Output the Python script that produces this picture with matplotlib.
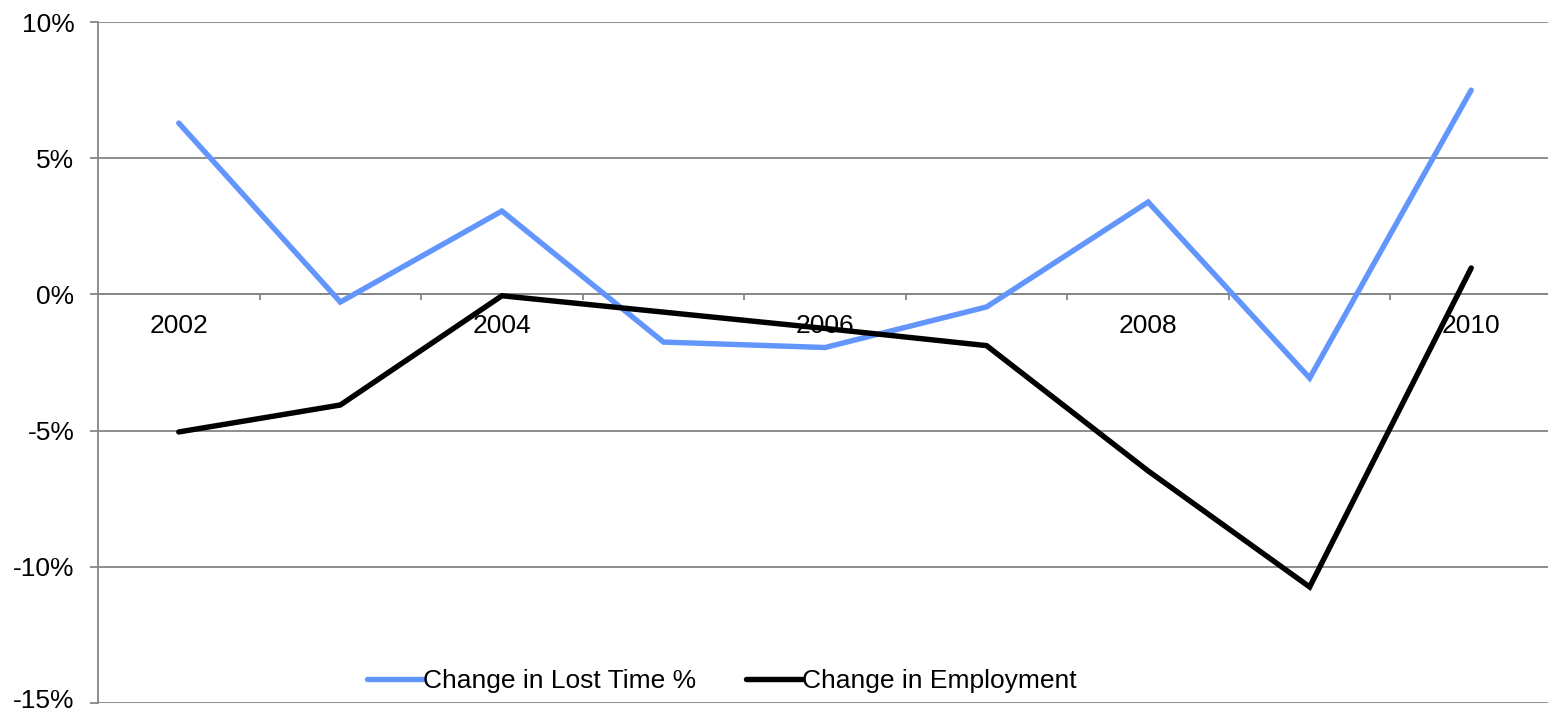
import numpy as np
import matplotlib
matplotlib.use("Agg")
import matplotlib.pyplot as plt
import matplotlib.transforms as mtrans
from matplotlib.ticker import FuncFormatter, FixedLocator

plt.rcParams['font.family'] = ['Liberation Sans', 'DejaVu Sans']

years = [2002, 2003, 2004, 2005, 2006, 2007, 2008, 2009, 2010]
lost_time = [6.29, -0.28, 3.06, -1.75, -1.95, -0.46, 3.39, -3.07, 7.5]
employment = [-5.05, -4.06, -0.05, -0.65, -1.25, -1.88, -6.48, -10.74, 0.97]
year_labels = ['2002', '', '2004', '', '2006', '', '2008', '', '2010']

grid_col = '#868686'
fs = 19

fig = plt.figure(figsize=(15.48, 7.11), dpi=100)
ax = fig.add_axes([98 / 1548, 1 - 703 / 711, 1454 / 1548, 681 / 711])

x = np.arange(len(years))
ax.plot(x, lost_time, color='#6396FC', lw=3.9, solid_capstyle='round',
        solid_joinstyle='miter', label='Change in Lost Time %', zorder=3)
ax.plot(x, employment, color='black', lw=3.9, solid_capstyle='round',
        solid_joinstyle='miter', label='Change in Employment', zorder=3)

ax.set_xlim(-0.5, len(years) - 0.5)
ax.set_ylim(-15, 10)
ax.set_yticks(np.arange(-15, 11, 5))
ax.yaxis.set_major_formatter(FuncFormatter(lambda v, p: '%d%%' % v))
ax.yaxis.grid(True, color=grid_col, lw=1.3)
ax.set_axisbelow(True)

# category axis crosses at zero, tick marks between categories
ax.spines['bottom'].set_position(('data', 0))
ax.spines['bottom'].set_color(grid_col)
ax.spines['bottom'].set_linewidth(1.3)
ax.spines['left'].set_color(grid_col)
ax.spines['left'].set_linewidth(1.3)
ax.spines['top'].set_visible(False)
ax.spines['right'].set_visible(False)

ax.set_xticks(x)
ax.set_xticklabels(year_labels)
ax.xaxis.set_minor_locator(FixedLocator(np.arange(0.5, len(years) - 1, 1)))
ax.tick_params(axis='x', which='major', length=0, pad=14, labelsize=fs)
ax.tick_params(axis='x', which='minor', length=4.5, width=1.3, color=grid_col,
               direction='out')
ax.tick_params(axis='y', length=6, width=1.3, color=grid_col, pad=11,
               labelsize=fs)

# keep the bottom label inside the figure edge
lowest = ax.get_yticklabels()[0]
lowest.set_transform(lowest.get_transform() +
                     mtrans.ScaledTranslation(0, 3 / 72, fig.dpi_scale_trans))

ax.legend(loc='lower center', bbox_to_anchor=(0.429, -0.02), ncol=2,
          frameon=False, fontsize=fs, handlelength=2.1, handletextpad=0.0,
          columnspacing=1.9)

fig.savefig('out.png', dpi=100)
